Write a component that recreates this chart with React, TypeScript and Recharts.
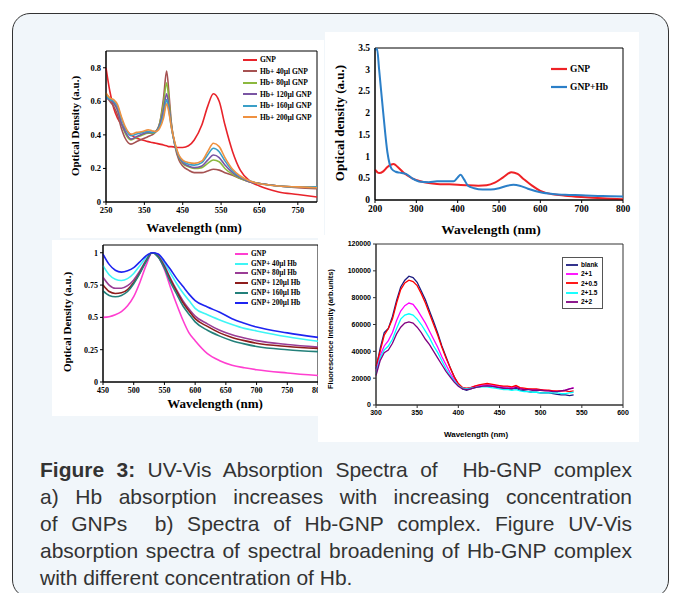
import React from "react";
import { LineChart, Line, XAxis, YAxis, ReferenceArea } from "recharts";

const serif = '"Liberation Serif", "Times New Roman", serif';
const sans = '"Liberation Sans", Arial, sans-serif';

// ---- panel a: Hb + GNP absorption
const wlA = [250, 260, 270, 280, 290, 300, 315, 330, 345, 360, 370, 380, 390, 400, 408, 415, 420, 430, 440, 450, 465, 480, 500, 515, 530, 545, 560, 580, 600, 625, 650, 700, 750, 800];
const gnpA = [0.8, 0.66, 0.56, 0.5, 0.465, 0.435, 0.4, 0.38, 0.37, 0.36, 0.355, 0.35, 0.345, 0.34, 0.335, 0.33, 0.33, 0.327, 0.325, 0.325, 0.335, 0.37, 0.46, 0.57, 0.645, 0.6, 0.46, 0.3, 0.19, 0.125, 0.095, 0.06, 0.045, 0.03];
const hb40A = [0.63, 0.6, 0.57, 0.52, 0.44, 0.38, 0.345, 0.36, 0.375, 0.39, 0.4, 0.42, 0.47, 0.62, 0.78, 0.62, 0.48, 0.33, 0.25, 0.215, 0.19, 0.175, 0.175, 0.185, 0.195, 0.19, 0.175, 0.16, 0.14, 0.12, 0.11, 0.095, 0.085, 0.08];
const hb80A = [0.64, 0.62, 0.59, 0.55, 0.47, 0.41, 0.37, 0.385, 0.4, 0.41, 0.41, 0.42, 0.47, 0.59, 0.71, 0.58, 0.47, 0.34, 0.265, 0.23, 0.21, 0.2, 0.205, 0.23, 0.25, 0.24, 0.2, 0.165, 0.14, 0.12, 0.11, 0.095, 0.09, 0.085];
const hb120A = [0.62, 0.61, 0.59, 0.55, 0.47, 0.42, 0.375, 0.39, 0.405, 0.415, 0.415, 0.42, 0.46, 0.55, 0.645, 0.55, 0.46, 0.34, 0.27, 0.235, 0.215, 0.205, 0.215, 0.25, 0.28, 0.265, 0.22, 0.175, 0.145, 0.12, 0.11, 0.095, 0.09, 0.085];
const hb160A = [0.63, 0.61, 0.6, 0.57, 0.5, 0.44, 0.395, 0.405, 0.415, 0.42, 0.415, 0.42, 0.45, 0.52, 0.61, 0.53, 0.45, 0.34, 0.275, 0.245, 0.225, 0.22, 0.235, 0.28, 0.32, 0.3, 0.245, 0.185, 0.15, 0.125, 0.11, 0.095, 0.09, 0.09];
const hb200A = [0.65, 0.62, 0.61, 0.58, 0.51, 0.45, 0.405, 0.415, 0.42, 0.43, 0.425, 0.42, 0.44, 0.5, 0.585, 0.52, 0.45, 0.35, 0.28, 0.25, 0.235, 0.23, 0.245, 0.3, 0.35, 0.33, 0.265, 0.195, 0.155, 0.125, 0.11, 0.095, 0.09, 0.085];
const namesA = ["GNP", "Hb+ 40µl GNP", "Hb+ 80µl GNP", "Hb+ 120µl GNP", "Hb+ 160µl GNP", "Hb+ 200µl GNP"];
const colorsA = ["#e8232a", "#a65252", "#8cb83e", "#7a55a3", "#3a9fc7", "#ef9140"];

// ---- panel b: GNP vs GNP+Hb
const wlGnpB = [200, 210, 220, 230, 245, 255, 270, 290, 310, 330, 350, 380, 400, 420, 450, 470, 490, 510, 530, 545, 560, 580, 600, 630, 660, 700, 750, 800];
const gnpB = [0.7, 0.62, 0.66, 0.76, 0.83, 0.76, 0.62, 0.5, 0.43, 0.39, 0.37, 0.36, 0.35, 0.34, 0.33, 0.34, 0.4, 0.52, 0.64, 0.6, 0.48, 0.33, 0.21, 0.13, 0.1, 0.07, 0.04, 0.02];
const wlHbB = [200, 205, 210, 220, 230, 240, 250, 260, 275, 290, 310, 330, 350, 370, 390, 400, 407, 415, 425, 440, 460, 480, 500, 520, 535, 550, 570, 600, 630, 660, 700, 750, 800];
const hbB = [3.45, 3.48, 3.0, 2.0, 1.1, 0.72, 0.65, 0.63, 0.6, 0.5, 0.42, 0.41, 0.43, 0.43, 0.43, 0.52, 0.58, 0.48, 0.33, 0.27, 0.24, 0.24, 0.27, 0.33, 0.35, 0.33, 0.26, 0.18, 0.14, 0.12, 0.11, 0.09, 0.08];
const yTicksB = [0, 0.5, 1, 1.5, 2, 2.5, 3, 3.5];
const namesB = ["GNP", "GNP+Hb"];
const colorsB = ["#ee2226", "#2b7fc8"];

// ---- panel c: normalised GNP + Hb
const wlC = [450, 460, 470, 480, 490, 500, 510, 520, 530, 540, 550, 560, 570, 580, 590, 600, 620, 640, 660, 680, 700, 750, 800];
const gnpC = [0.5, 0.505, 0.52, 0.545, 0.59, 0.66, 0.77, 0.9, 1.0, 0.97, 0.87, 0.73, 0.6, 0.48, 0.38, 0.32, 0.22, 0.165, 0.13, 0.11, 0.095, 0.07, 0.05];
const c40 = [0.9, 0.83, 0.795, 0.785, 0.8, 0.84, 0.9, 0.96, 1.0, 0.985, 0.92, 0.84, 0.76, 0.69, 0.63, 0.57, 0.52, 0.48, 0.445, 0.415, 0.395, 0.35, 0.315];
const c80 = [0.81, 0.75, 0.725, 0.725, 0.745, 0.79, 0.86, 0.94, 1.0, 0.975, 0.9, 0.8, 0.71, 0.63, 0.565, 0.51, 0.45, 0.4, 0.365, 0.34, 0.32, 0.29, 0.27];
const c120 = [0.75, 0.7, 0.685, 0.69, 0.715, 0.77, 0.845, 0.935, 1.0, 0.97, 0.89, 0.79, 0.7, 0.615, 0.55, 0.49, 0.43, 0.38, 0.345, 0.32, 0.3, 0.275, 0.26];
const c160 = [0.705, 0.67, 0.66, 0.67, 0.7, 0.76, 0.84, 0.93, 1.0, 0.965, 0.88, 0.77, 0.68, 0.59, 0.525, 0.465, 0.4, 0.355, 0.32, 0.295, 0.275, 0.25, 0.235];
const c200 = [0.99, 0.91, 0.865, 0.85, 0.86, 0.885, 0.93, 0.975, 1.0, 0.99, 0.935, 0.87, 0.8, 0.74, 0.68, 0.63, 0.58, 0.54, 0.49, 0.455, 0.425, 0.38, 0.345];
const namesC = ["GNP", "GNP+ 40µl Hb", "GNP+ 80µl Hb", "GNP+ 120µl Hb", "GNP+ 160µl Hb", "GNP+ 200µl Hb"];
const colorsC = ["#ff3fd0", "#3ff5f5", "#9a3d96", "#8e1d1d", "#23807a", "#1e24f0"];

// ---- panel d: fluorescence
const wlD = [300, 305, 310, 315, 320, 325, 330, 335, 340, 345, 350, 355, 360, 365, 370, 375, 380, 385, 390, 395, 400, 405, 410, 415, 420, 425, 430, 435, 440, 445, 450, 455, 460, 465, 470, 475, 480, 485, 490, 495, 500, 505, 510, 515, 520, 525, 530, 535, 540];
const blankD = [27000, 42000, 54000, 57000, 66000, 78000, 88000, 93000, 96000, 95000, 91500, 85000, 78500, 70000, 62000, 53500, 44000, 36000, 28000, 21000, 15500, 12000, 11000, 12000, 13000, 13500, 14000, 14500, 14000, 13500, 13000, 12500, 12000, 12000, 12500, 11000, 10500, 10000, 9500, 9500, 9000, 9000, 9000, 8500, 8000, 7500, 7500, 7000, 7500];
const d21 = [25000, 37000, 44000, 48000, 54000, 63000, 70000, 74000, 76000, 75000, 71000, 66000, 61000, 55000, 49000, 43000, 36000, 30000, 24000, 19000, 15000, 13000, 12000, 13000, 14000, 14500, 15000, 15000, 15000, 14500, 14000, 13500, 13500, 13000, 14000, 12500, 12000, 12000, 11500, 11500, 11000, 11000, 10500, 10500, 10000, 10500, 11000, 12000, 13000];
const d205 = [29000, 40000, 52000, 57000, 64000, 76000, 86000, 91000, 93000, 92000, 89000, 83000, 76000, 68000, 60000, 52000, 43000, 35000, 28000, 21000, 16000, 13000, 12500, 13000, 14000, 15000, 15500, 16000, 15500, 15000, 14500, 14000, 14000, 13500, 14500, 13000, 12500, 12000, 12000, 12000, 11500, 11000, 11000, 10500, 10500, 10500, 10500, 10000, 10500];
const d215 = [23000, 35000, 41000, 44000, 49000, 57000, 64000, 67000, 68000, 67000, 64000, 60000, 55000, 50000, 44000, 39000, 33000, 27000, 22000, 18000, 14500, 12500, 12000, 12500, 13000, 13500, 13500, 13500, 13000, 12500, 12000, 11500, 11500, 11000, 11500, 10500, 10000, 10000, 9500, 9500, 9000, 9000, 9000, 9000, 9000, 8500, 8500, 9000, 9500];
const d22 = [22000, 33000, 39000, 41000, 46000, 53000, 58000, 61000, 62000, 61000, 58000, 54000, 49000, 45000, 40000, 35000, 30000, 25000, 21000, 17000, 14000, 12000, 11500, 12000, 13000, 13500, 14000, 14000, 14000, 13500, 13000, 12500, 12500, 12000, 13000, 12000, 11500, 11500, 11000, 11000, 11000, 10500, 10500, 10000, 10000, 10500, 11000, 12000, 12500];
const namesD = ["blank", "2+1", "2+0.5", "2+1.5", "2+2"];
const colorsD = ["#1c1c80", "#ff00ff", "#ff0000", "#00ffff", "#800080"];

const table = (xs: number[], series: number[][]) =>
  xs.map((x, i) => {
    const row: Record<string, number> = { x };
    series.forEach((s, j) => (row["s" + j] = s[i]));
    return row;
  });

// merge series that were sampled at different wavelengths
const mergeTable = (pairs: [number[], number[]][]) => {
  const xs = Array.from(new Set(pairs.flatMap(([w]) => w))).sort((a, b) => a - b);
  return xs.map((x) => {
    const row: Record<string, number> = { x };
    pairs.forEach(([w, v], j) => {
      const k = w.indexOf(x);
      if (k >= 0) row["s" + j] = v[k];
    });
    return row;
  });
};

const dataA = table(wlA, [gnpA, hb40A, hb80A, hb120A, hb160A, hb200A]);
const dataB = mergeTable([
  [wlGnpB, gnpB],
  [wlHbB, hbB],
]);
const dataC = table(wlC, [gnpC, c40, c80, c120, c160, c200]);
const dataD = table(wlD, [blankD, d21, d205, d215, d22]);

type LegendProps = {
  names: string[];
  colors: string[];
  left: number;
  top: number;
  row: number;
  line: number;
  font: string;
  size: number;
  box?: boolean;
  lw?: number;
};

function LegendBox({ names, colors, left, top, row, line, font, size, box, lw = 2 }: LegendProps) {
  return (
    <div
      style={{
        position: "absolute",
        left,
        top,
        fontFamily: font,
        fontWeight: "bold",
        fontSize: size,
        color: "#000",
        border: box ? "1px solid #555" : "none",
        padding: box ? "2px 4px 2px 3px" : 0,
        background: box ? "#fff" : "transparent",
      }}
    >
      {names.map((n, i) => (
        <div key={n} style={{ height: row, display: "flex", alignItems: "center", whiteSpace: "nowrap" }}>
          <svg width={line} height={6} style={{ marginRight: 3 }}>
            <line x1={0} y1={3} x2={line} y2={3} stroke={colors[i]} strokeWidth={lw} />
          </svg>
          {n}
        </div>
      ))}
    </div>
  );
}

function AxisTitle({ text, x, y, size, font, rotate }: { text: string; x: number; y: number; size: number; font: string; rotate?: boolean }) {
  return (
    <div
      style={{
        position: "absolute",
        left: x,
        top: y,
        transform: `translate(-50%, -50%)${rotate ? " rotate(-90deg)" : ""}`,
        fontFamily: font,
        fontWeight: "bold",
        fontSize: size,
        whiteSpace: "nowrap",
        color: "#000",
        pointerEvents: "none",
      }}
    >
      {text}
    </div>
  );
}

const panel = (left: number, top: number, width: number, height: number): React.CSSProperties => ({
  position: "absolute",
  left,
  top,
  width,
  height,
  background: "#fff",
  overflow: "hidden",
});

function PanelA() {
  const tick = { fontFamily: serif, fontWeight: "bold", fontSize: 8.5, fill: "#000" };
  return (
    <div style={panel(60, 40, 264, 198)}>
      <LineChart width={264} height={198} data={dataA} margin={{ top: 11, right: 7, bottom: 0, left: 0 }}>
        <XAxis dataKey="x" type="number" domain={[250, 800]} ticks={[250, 350, 450, 550, 650, 750]} interval={0} height={36} tick={tick} tickSize={3} axisLine={{ stroke: "#000" }} tickLine={{ stroke: "#000" }} />
        <YAxis type="number" domain={[0, 0.9]} ticks={[0, 0.2, 0.4, 0.6, 0.8]} interval={0} width={46} tick={tick} tickSize={3} axisLine={{ stroke: "#000" }} tickLine={{ stroke: "#000" }} />
        <ReferenceArea x1={250} x2={800} y1={0} y2={0.9} fill="none" stroke="#000" strokeWidth={1} />
        {colorsA.map((c, i) => (
          <Line key={i} dataKey={"s" + i} type="monotone" stroke={c} strokeWidth={1.6} dot={false} isAnimationActive={false} />
        ))}
      </LineChart>
      <LegendBox names={namesA} colors={colorsA} left={183} top={14} row={11.5} line={14} font={serif} size={7.5} />
      <AxisTitle text="Optical Density (a.u.)" x={15} y={86} size={11} font={serif} rotate />
      <AxisTitle text="Wavelength (nm)" x={134} y={188} size={13} font={serif} />
    </div>
  );
}

// panel b plot box (px inside its panel), used for its tick-label column
const B_W = 314;
const B_H = 208;
const B_TOP = 16;
const B_XAXIS = 40;
const B_YAXIS = 50;

function PanelB() {
  const tick = { fontFamily: serif, fontWeight: "bold", fontSize: 9.5, fill: "#000" };
  const plotH = B_H - B_TOP - B_XAXIS;
  const yMax = yTicksB[yTicksB.length - 1];
  return (
    <div style={panel(325, 32, B_W, B_H)}>
      <LineChart width={B_W} height={B_H} data={dataB} margin={{ top: B_TOP, right: 16, bottom: 0, left: 0 }}>
        <XAxis dataKey="x" type="number" domain={[200, 800]} ticks={[200, 300, 400, 500, 600, 700, 800]} interval={0} height={B_XAXIS} tick={tick} tickSize={3} axisLine={{ stroke: "#000" }} tickLine={{ stroke: "#000" }} />
        <YAxis type="number" domain={[0, yMax]} width={B_YAXIS} tick={false} tickLine={false} axisLine={{ stroke: "#000" }} />
        <ReferenceArea x1={200} x2={800} y1={0} y2={yMax} fill="none" stroke="#000" strokeWidth={1} />
        {colorsB.map((c, i) => (
          <Line key={i} dataKey={"s" + i} type="monotone" connectNulls stroke={c} strokeWidth={2} dot={false} isAnimationActive={false} />
        ))}
      </LineChart>
      {yTicksB.map((v) => (
        <div
          key={v}
          style={{
            position: "absolute",
            left: 0,
            width: B_YAXIS - 5,
            top: B_TOP + (1 - v / yMax) * plotH - 6,
            height: 12,
            lineHeight: "12px",
            textAlign: "right",
            fontFamily: serif,
            fontWeight: "bold",
            fontSize: 9.5,
            color: "#000",
            zIndex: 5,
          }}
        >
          {String(v)}
        </div>
      ))}
      <LegendBox names={namesB} colors={colorsB} left={226} top={28} row={18} line={16} font={serif} size={9.5} lw={2.2} />
      <AxisTitle text="Optical density (a.u.)" x={15} y={91} size={13} font={serif} rotate />
      <AxisTitle text="Wavelength (nm)" x={166} y={198} size={13.5} font={serif} />
    </div>
  );
}

function PanelC() {
  const tick = { fontFamily: serif, fontWeight: "bold", fontSize: 8, fill: "#000" };
  return (
    <div style={panel(52, 240, 268, 176)}>
      <LineChart width={268} height={176} data={dataC} margin={{ top: 5, right: 2, bottom: 0, left: 0 }}>
        <XAxis dataKey="x" type="number" domain={[450, 800]} ticks={[450, 500, 550, 600, 650, 700, 750, 800]} interval={0} height={34} tick={tick} tickSize={3} axisLine={{ stroke: "#000" }} tickLine={{ stroke: "#000" }} />
        <YAxis type="number" domain={[0, 1.06]} ticks={[0, 0.25, 0.5, 0.75, 1]} interval={0} width={51} tick={tick} tickSize={3} axisLine={{ stroke: "#000" }} tickLine={{ stroke: "#000" }} />
        <ReferenceArea x1={450} x2={800} y1={0} y2={1.06} fill="none" stroke="#000" strokeWidth={1} />
        {colorsC.map((c, i) => (
          <Line key={i} dataKey={"s" + i} type="monotone" stroke={c} strokeWidth={1.6} dot={false} isAnimationActive={false} />
        ))}
      </LineChart>
      <LegendBox names={namesC} colors={colorsC} left={183} top={9} row={9.8} line={13} font={serif} size={7.2} />
      <AxisTitle text="Optical Density (a.u.)" x={15} y={82} size={11} font={serif} rotate />
      <AxisTitle text="Wavelength (nm)" x={163} y={164} size={13} font={serif} />
    </div>
  );
}

function PanelD() {
  const tick = { fontFamily: sans, fontWeight: "bold", fontSize: 7, fill: "#000" };
  return (
    <div style={panel(318, 235, 321, 207)}>
      <LineChart width={321} height={207} data={dataD} margin={{ top: 9, right: 16, bottom: 0, left: 0 }}>
        <XAxis dataKey="x" type="number" domain={[300, 600]} ticks={[300, 350, 400, 450, 500, 550, 600]} interval={0} height={37} tick={tick} tickSize={3} axisLine={{ stroke: "#333" }} tickLine={{ stroke: "#333" }} />
        <YAxis type="number" domain={[0, 120000]} ticks={[0, 20000, 40000, 60000, 80000, 100000, 120000]} interval={0} width={58} tick={tick} tickSize={3} axisLine={{ stroke: "#333" }} tickLine={{ stroke: "#333" }} />
        <ReferenceArea x1={300} x2={600} y1={0} y2={120000} fill="none" stroke="#333" strokeWidth={1} />
        {colorsD.map((c, i) => (
          <Line key={i} dataKey={"s" + i} type="linear" stroke={c} strokeWidth={1.3} dot={false} isAnimationActive={false} />
        ))}
      </LineChart>
      <LegendBox names={namesD} colors={colorsD} left={244} top={22} row={9.3} line={12} font={sans} size={6.5} box lw={1.8} />
      <AxisTitle text="Fluorescence Intensity (arb.units)" x={12} y={94} size={7.5} font={sans} rotate />
      <AxisTitle text="Wavelength (nm)" x={158} y={199} size={8} font={sans} />
    </div>
  );
}

const captionLines = [
  "UV-Vis Absorption Spectra of  Hb-GNP complex",
  "a) Hb absorption increases with increasing concentration",
  "of GNPs  b) Spectra of Hb-GNP complex. Figure UV-Vis",
  "absorption spectra of spectral broadening of Hb-GNP complex",
  "with different concentration of Hb.",
];

export default function App() {
  return (
    <div style={{ position: "absolute", left: 0, top: 0, width: 673, height: 593, overflow: "hidden", background: "#fff" }}>
      <div
        style={{
          position: "absolute",
          left: 12,
          top: 13,
          width: 655,
          height: 583,
          border: "1.3px solid #333",
          borderRadius: 18,
          background: "#f1f6fa",
        }}
      />
      <PanelA />
      <PanelC />
      <PanelD />
      <PanelB />
      <div
        style={{
          position: "absolute",
          left: 40,
          top: 456,
          width: 592,
          fontFamily: sans,
          fontSize: 21,
          lineHeight: "27px",
          color: "#333",
        }}
      >
        {captionLines.map((l, i) => (
          <div
            key={i}
            style={{
              textAlign: "justify",
              textAlignLast: i < captionLines.length - 1 ? "justify" : "left",
              whiteSpace: "pre-wrap",
            }}
          >
            {i === 0 ? <b>Figure 3: </b> : null}
            {l}
          </div>
        ))}
      </div>
    </div>
  );
}
